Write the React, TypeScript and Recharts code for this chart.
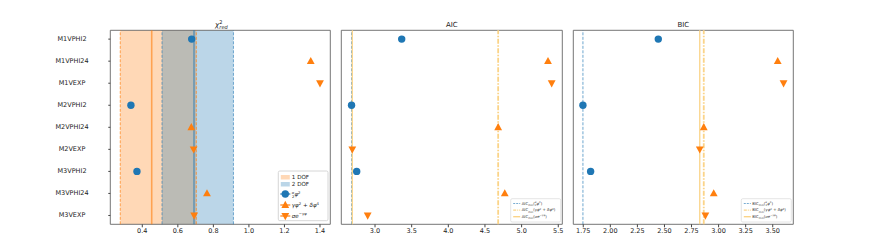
import React from "react";
import { ScatterChart, Scatter, XAxis, YAxis, ReferenceArea, ReferenceLine } from "recharts";

const models = ["M1VPHI2", "M1VPHI24", "M1VEXP", "M2VPHI2", "M2VPHI24", "M2VEXP", "M3VPHI2", "M3VPHI24", "M3VEXP"];
const kinds = ["phi2", "phi24", "exp"];

const chiRed = [0.678, 1.348, 1.4, 0.336, 0.676, 0.689, 0.37, 0.764, 0.692];
const aic = [3.364, 5.36, 5.41, 2.68, 4.68, 2.69, 2.75, 4.77, 2.9];
const bic = [2.443, 3.546, 3.6, 1.747, 2.863, 2.826, 1.818, 2.955, 2.878];

// chi2_red bands: lower, centre, upper
const dof1 = [0.276, 0.453, 0.704];
const dof2 = [0.511, 0.691, 0.913];

const chiTicks = [0.4, 0.6, 0.8, 1.0, 1.2, 1.4];
const aicTicks = [3.0, 3.5, 4.0, 4.5, 5.0, 5.5];
const bicTicks = [1.75, 2.0, 2.25, 2.5, 2.75, 3.0, 3.25, 3.5];
const rowTicks = models.map((_, i) => i);

const BLUE = "#1f77b4";
const ORANGE = "#ff7f0e";
const YELLOW = "#fbd488";
const PLOT_TOP = 30.3;
const PLOT_BOTTOM = 224.3;
const XAXIS_H = 20;
const FONT = '"DejaVu Sans", sans-serif';

const rowsFor = (values: number[], kind: string) =>
  values.map((v, i) => ({ x: v, y: i, kind: kinds[i % 3] })).filter((r) => r.kind === kind);

const minOf = (values: number[], kind: string) => Math.min(...rowsFor(values, kind).map((r) => r.x));

const Dot = (props: any) => <circle cx={props.cx} cy={props.cy} r={3.7} fill={BLUE} />;
const TriUp = (props: any) => {
  const { cx, cy } = props;
  return <polygon points={`${cx},${cy - 4.2} ${cx - 3.9},${cy + 2.9} ${cx + 3.9},${cy + 2.9}`} fill={ORANGE} />;
};
const TriDown = (props: any) => {
  const { cx, cy } = props;
  return <polygon points={`${cx},${cy + 4.2} ${cx - 3.9},${cy - 2.9} ${cx + 3.9},${cy - 2.9}`} fill={ORANGE} />;
};

const NameTick = (props: any) => (
  <text x={72} y={props.y} textAnchor="middle" dominantBaseline="central" fontSize={6.5} fill="#222" fontFamily={FONT}>
    {models[props.payload.value]}
  </text>
);

function Panel({ values, domain, ticks, digits, plotLeft, plotRight, showNames, children }: any) {
  const yW = showNames ? 60 : 0;
  return (
    <div style={{ position: "absolute", left: 0, top: 0 }}>
      <ScatterChart
        width={882}
        height={252}
        margin={{ top: PLOT_TOP, bottom: 252 - PLOT_BOTTOM - XAXIS_H, left: plotLeft - yW, right: 882 - plotRight }}
      >
        <XAxis
          type="number"
          dataKey="x"
          domain={domain}
          ticks={ticks}
          allowDataOverflow
          height={XAXIS_H}
          tick={{ fontSize: 6.5, fill: "#222", fontFamily: FONT }}
          tickFormatter={(v: number) => v.toFixed(digits)}
          tickSize={3}
          tickMargin={1}
          axisLine={false}
          tickLine={{ stroke: "#444" }}
        />
        <YAxis
          type="number"
          dataKey="y"
          domain={[-0.4, 8.4]}
          reversed
          ticks={rowTicks}
          interval={0}
          width={yW}
          hide={!showNames}
          tick={<NameTick />}
          axisLine={false}
          tickSize={2}
          tickLine={{ stroke: "#444" }}
        />
        {children}
        <Scatter data={rowsFor(values, "phi2")} shape={<Dot />} isAnimationActive={false} />
        <Scatter data={rowsFor(values, "phi24")} shape={<TriUp />} isAnimationActive={false} />
        <Scatter data={rowsFor(values, "exp")} shape={<TriDown />} isAnimationActive={false} />
        <ReferenceArea x1={domain[0]} x2={domain[1]} y1={-0.4} y2={8.4} fill="none" stroke="#666" strokeWidth={0.9} ifOverflow="visible" />
      </ScatterChart>
    </div>
  );
}

// math-ish label for the three potentials
function PotLabel({ kind, fs, prefix }: any) {
  const s = fs * 0.68;
  return (
    <>
      {prefix && (
        <>
          {prefix}
          <tspan fontSize={s} dy={fs * 0.3}>min</tspan>
          <tspan dy={-fs * 0.3}>(</tspan>
        </>
      )}
      {kind === "phi2" && (
        <>
          <tspan fontSize={s} fontStyle="italic" dy={-fs * 0.42}>α</tspan>
          <tspan fontSize={s} dx={-fs * 0.42} dy={fs * 0.74}>2</tspan>
          <tspan fontStyle="italic" dy={-fs * 0.32}>φ</tspan>
          <tspan fontSize={s} dy={-fs * 0.4}>2</tspan>
          <tspan dy={fs * 0.4}>{prefix ? ")" : ""}</tspan>
        </>
      )}
      {kind === "phi24" && (
        <>
          <tspan fontStyle="italic">γφ</tspan>
          <tspan fontSize={s} dy={-fs * 0.4}>2</tspan>
          <tspan dy={fs * 0.4}> + </tspan>
          <tspan fontStyle="italic">δφ</tspan>
          <tspan fontSize={s} dy={-fs * 0.4}>4</tspan>
          <tspan dy={fs * 0.4}>{prefix ? ")" : ""}</tspan>
        </>
      )}
      {kind === "exp" && (
        <>
          <tspan fontStyle="italic">σe</tspan>
          <tspan fontSize={s} fontStyle="italic" dy={-fs * 0.45}>−γφ</tspan>
          <tspan dy={fs * 0.45}>{prefix ? ")" : ""}</tspan>
        </>
      )}
    </>
  );
}

function MinLegend({ x, y, name }: any) {
  const fs = 3.9;
  const rows = [
    { kind: "phi2", stroke: BLUE, opacity: 0.6, dash: "2 1", w: 1.2 },
    { kind: "phi24", stroke: YELLOW, opacity: 1, dash: "3 1 1 1", w: 1.4 },
    { kind: "exp", stroke: YELLOW, opacity: 1, dash: undefined, w: 1.4 },
  ];
  return (
    <g>
      <rect x={x} y={y} width={50} height={23.3} rx={1.5} fill="#fff" fillOpacity={0.85} stroke="#ddd" strokeWidth={0.8} />
      {rows.map((r, i) => {
        const cy = y + 4.8 + i * 6.6;
        return (
          <g key={r.kind}>
            <line x1={x + 2.5} x2={x + 9.5} y1={cy} y2={cy} stroke={r.stroke} strokeOpacity={r.opacity} strokeWidth={r.w} strokeDasharray={r.dash} />
            <text x={x + 11} y={cy + fs * 0.35} fontSize={fs} fill="#333" fontFamily={FONT}>
              <PotLabel kind={r.kind} fs={fs} prefix={name} />
            </text>
          </g>
        );
      })}
    </g>
  );
}

function ChiLegend() {
  const x = 278.3;
  const y = 171;
  const fs = 5.6;
  const tx = x + 13.5;
  return (
    <g fontFamily={FONT}>
      <rect x={x} y={y} width={49.7} height={49.7} rx={1.5} fill="#fff" fillOpacity={0.85} stroke="#ccc" strokeWidth={0.8} />
      <rect x={x + 2.5} y={175} width={9} height={4.5} fill={ORANGE} fillOpacity={0.3} />
      <text x={tx} y={177.3 + fs * 0.35} fontSize={fs} fill="#222">1 DOF</text>
      <rect x={x + 2.5} y={182} width={9} height={4.5} fill={BLUE} fillOpacity={0.3} />
      <text x={tx} y={184.3 + fs * 0.35} fontSize={fs} fill="#222">2 DOF</text>
      <line x1={x + 2} x2={x + 12} y1={194} y2={194} stroke={BLUE} strokeWidth={1.2} />
      <Dot cx={x + 7} cy={194} />
      <text x={tx} y={194 + fs * 0.35} fontSize={fs} fill="#222">
        <PotLabel kind="phi2" fs={fs} />
      </text>
      <line x1={x + 2} x2={x + 12} y1={205} y2={205} stroke={ORANGE} strokeWidth={1.2} />
      <TriUp cx={x + 7} cy={205} />
      <text x={tx} y={205 + fs * 0.35} fontSize={fs} fill="#222">
        <PotLabel kind="phi24" fs={fs} />
      </text>
      <line x1={x + 2} x2={x + 12} y1={216} y2={216} stroke={ORANGE} strokeWidth={1.2} />
      <TriDown cx={x + 7} cy={216} />
      <text x={tx} y={216 + fs * 0.35} fontSize={fs} fill="#222">
        <PotLabel kind="exp" fs={fs} />
      </text>
    </g>
  );
}

function minLines(values: number[]) {
  return [
    <ReferenceLine key="a" x={minOf(values, "phi2")} stroke={BLUE} strokeOpacity={0.65} strokeWidth={1} strokeDasharray="3 1.5" />,
    <ReferenceLine key="b" x={minOf(values, "exp")} stroke={YELLOW} strokeWidth={1.3} />,
    <ReferenceLine key="c" x={minOf(values, "phi24")} stroke={YELLOW} strokeWidth={1.8} strokeDasharray="5 1.5 1.5 1.5" />,
  ];
}

export default function App() {
  return (
    <div style={{ position: "absolute", left: 0, top: 0, width: 882, height: 252, background: "#fff", fontFamily: FONT }}>
      <Panel values={chiRed} domain={[0.22, 1.458]} ticks={chiTicks} digits={1} plotLeft={110.3} plotRight={330.3} showNames>
        <ReferenceArea x1={dof1[0]} x2={dof1[2]} fill={ORANGE} fillOpacity={0.3} stroke="none" />
        <ReferenceArea x1={dof2[0]} x2={dof2[2]} fill={BLUE} fillOpacity={0.3} stroke="none" />
        <ReferenceLine x={dof1[0]} stroke={ORANGE} strokeOpacity={0.7} strokeDasharray="3 1.5" />
        <ReferenceLine x={dof1[2]} stroke={ORANGE} strokeOpacity={0.7} strokeDasharray="3 1.5" />
        <ReferenceLine x={dof1[1]} stroke={ORANGE} strokeOpacity={0.6} strokeWidth={1.6} />
        <ReferenceLine x={dof2[0]} stroke={BLUE} strokeOpacity={0.6} strokeDasharray="3 1.5" />
        <ReferenceLine x={dof2[2]} stroke={BLUE} strokeOpacity={0.6} strokeDasharray="3 1.5" />
        <ReferenceLine x={dof2[1]} stroke={BLUE} strokeOpacity={0.55} strokeWidth={1.6} />
      </Panel>
      <Panel values={aic} domain={[2.54, 5.555]} ticks={aicTicks} digits={1} plotLeft={341.3} plotRight={562.3}>
        {minLines(aic)}
      </Panel>
      <Panel values={bic} domain={[1.658, 3.69]} ticks={bicTicks} digits={2} plotLeft={573.3} plotRight={793.3}>
        {minLines(bic)}
      </Panel>
      <svg width={882} height={252} style={{ position: "absolute", left: 0, top: 0, pointerEvents: "none" }}>
        <text x={215} y={27} fontSize={7} fill="#222" fontFamily={FONT}>
          <tspan fontStyle="italic">χ</tspan>
          <tspan fontSize={5} dy={-3.2}>2</tspan>
          <tspan fontSize={5} fontStyle="italic" dx={-3} dy={4.8}>red</tspan>
        </text>
        <text x={451.8} y={27} fontSize={7} fill="#222" textAnchor="middle" fontFamily={FONT}>AIC</text>
        <text x={683.3} y={27} fontSize={7} fill="#222" textAnchor="middle" fontFamily={FONT}>BIC</text>
        <ChiLegend />
        <MinLegend x={510.7} y={198.7} name="AIC" />
        <MinLegend x={741.3} y={198.7} name="BIC" />
      </svg>
    </div>
  );
}
